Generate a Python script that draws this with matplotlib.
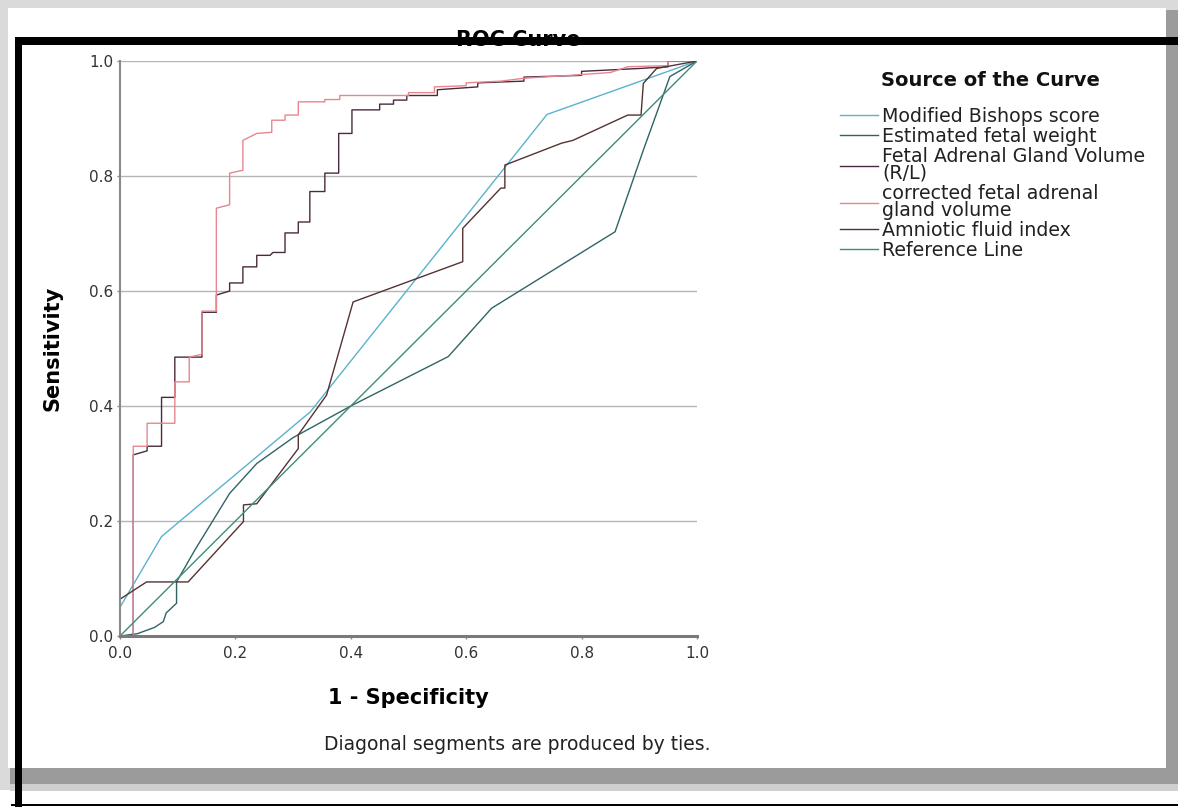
import matplotlib
matplotlib.use("Agg")
import matplotlib.pyplot as plt
from matplotlib.patches import Rectangle
from matplotlib.ticker import FormatStrFormatter

# ---------------- data ----------------
series_names = [
    "Modified Bishops score",
    "Estimated fetal weight",
    "Fetal Adrenal Gland Volume\n(R/L)",
    "corrected fetal adrenal\ngland volume",
    "Amniotic fluid index",
    "Reference Line",
]

bishops_x = [0.0, 0.0, 0.072, 0.33, 0.74, 1.0]
bishops_y = [0.0, 0.05, 0.173, 0.39, 0.907, 1.0]

efw_x = [0.0, 0.03, 0.06, 0.075, 0.08, 0.098, 0.098, 0.13, 0.19, 0.237, 0.30, 0.40, 0.569,
         0.644, 0.858, 0.907, 0.953, 1.0]
efw_y = [0.0, 0.004, 0.015, 0.025, 0.04, 0.057, 0.094, 0.15, 0.248, 0.30, 0.345, 0.40, 0.486,
         0.57, 0.703, 0.845, 0.973, 1.0]

fagv_x = [0.0, 0.023, 0.023, 0.047, 0.047, 0.072, 0.072, 0.095, 0.095, 0.142, 0.142, 0.167,
          0.167, 0.19, 0.19, 0.213, 0.213, 0.237, 0.237, 0.26, 0.265, 0.286, 0.286, 0.309,
          0.309, 0.329, 0.329, 0.355, 0.355, 0.379, 0.379, 0.402, 0.402, 0.45, 0.45, 0.474,
          0.474, 0.497, 0.497, 0.55, 0.55, 0.62, 0.62, 0.70, 0.70, 0.80, 0.80, 0.90, 0.95,
          0.95, 1.0]
fagv_y = [0.0, 0.0, 0.315, 0.322, 0.33, 0.33, 0.415, 0.415, 0.485, 0.485, 0.563, 0.563,
          0.593, 0.60, 0.614, 0.614, 0.642, 0.642, 0.662, 0.662, 0.667, 0.667, 0.701, 0.701,
          0.72, 0.72, 0.773, 0.773, 0.805, 0.805, 0.874, 0.874, 0.915, 0.915, 0.925, 0.925,
          0.932, 0.932, 0.94, 0.94, 0.95, 0.955, 0.962, 0.965, 0.972, 0.975, 0.982, 0.987, 0.99,
          1.0, 1.0]

cfagv_x = [0.0, 0.023, 0.023, 0.047, 0.047, 0.095, 0.095, 0.12, 0.12, 0.142, 0.142, 0.167,
           0.167, 0.19, 0.19, 0.213, 0.213, 0.237, 0.263, 0.263, 0.286, 0.286, 0.309, 0.309,
           0.355, 0.355, 0.381, 0.381, 0.50, 0.50, 0.545, 0.545, 0.60, 0.60, 0.66, 0.70, 0.78,
           0.85, 0.88, 0.95, 0.95, 1.0]
cfagv_y = [0.0, 0.0, 0.33, 0.33, 0.37, 0.37, 0.442, 0.442, 0.485, 0.49, 0.565, 0.565,
           0.744, 0.75, 0.805, 0.81, 0.862, 0.874, 0.876, 0.897, 0.897, 0.906, 0.906, 0.929,
           0.929, 0.933, 0.933, 0.94, 0.94, 0.945, 0.945, 0.955, 0.957, 0.962, 0.965, 0.97,
           0.975, 0.98, 0.99, 0.992, 1.0, 1.0]

afi_x = [0.0, 0.0, 0.046, 0.118, 0.214, 0.214, 0.237, 0.309, 0.309, 0.358, 0.404, 0.594,
         0.594, 0.66, 0.667, 0.667, 0.765, 0.785, 0.88, 0.903, 0.907, 0.93, 1.0]
afi_y = [0.0, 0.064, 0.094, 0.094, 0.199, 0.228, 0.23, 0.326, 0.35, 0.419, 0.581, 0.651,
         0.709, 0.779, 0.779, 0.819, 0.857, 0.862, 0.906, 0.906, 0.961, 0.987, 1.0]

ref_x = [0.0, 1.0]
ref_y = [0.0, 1.0]

series_x = [bishops_x, efw_x, fagv_x, cfagv_x, afi_x, ref_x]
series_y = [bishops_y, efw_y, fagv_y, cfagv_y, afi_y, ref_y]
series_colors = ["#5ab2cc", "#2f6466", "#4a2a3e", "#e8868e", "#553232", "#3f8c78"]

tick_values = [0.0, 0.2, 0.4, 0.6, 0.8, 1.0]

# ---------------- figure ----------------
W, H = 1178, 807
fig = plt.figure(figsize=(W / 100, H / 100), dpi=100, facecolor="white")


def box(x0, y0, x1, y1, color, z):
    r = Rectangle((x0 / W, 1 - y1 / H), (x1 - x0) / W, (y1 - y0) / H,
                  transform=fig.transFigure, facecolor=color, edgecolor="none", zorder=z)
    fig.add_artist(r)


# screenshot frame with drop shadow
box(0, 0, 1178, 790, "#dadada", -8)
box(10, 10, 1178, 784, "#9b9b9b", -7)
box(10, 784, 1178, 791, "#cfcfcf", -7)
box(8, 8, 1166, 768, "white", -6)

ax = fig.add_axes([120 / W, 1 - 636 / H, 577 / W, 575 / H])
ax.set_zorder(1)

for xs, ys, c, name in zip(series_x, series_y, series_colors, series_names):
    ax.plot(xs, ys, color=c, lw=1.0, label=name)

ax.set_xlim(0, 1)
ax.set_ylim(0, 1)
ax.set_xticks(tick_values)
ax.set_yticks(tick_values)
ax.xaxis.set_major_formatter(FormatStrFormatter("%.1f"))
ax.yaxis.set_major_formatter(FormatStrFormatter("%.1f"))
ax.tick_params(axis="both", length=2, width=1, color="#888888", labelsize=11,
               labelcolor="#333333")
ax.tick_params(axis="x", pad=5)
ax.tick_params(axis="y", pad=3)
ax.grid(axis="y", color="#b5b5b5", lw=1.0)
ax.set_axisbelow(True)
for s in ["top", "right"]:
    ax.spines[s].set_visible(False)
ax.spines["left"].set_color("#8a8a8a")
ax.spines["left"].set_linewidth(1.5)
ax.spines["bottom"].set_color("#7a7a7a")
ax.spines["bottom"].set_linewidth(2.2)

ax.set_xlabel("1 - Specificity", fontsize=15, fontweight="bold", va="center")
ax.xaxis.set_label_coords(0.5, -(698 - 636) / 575)
ax.set_ylabel("Sensitivity", fontsize=15, fontweight="bold", va="center")
ax.yaxis.set_label_coords((52 - 120) / 577, 0.5)

leg = ax.legend(loc="upper left", bbox_to_anchor=(840 / W, 1 - 107 / H),
                bbox_transform=fig.transFigure, frameon=False,
                fontsize=13.7, handlelength=2.0, handletextpad=0.22,
                labelspacing=0.055, borderpad=0, borderaxespad=0)
for t in leg.get_texts():
    t.set_linespacing(0.85)
    t.set_color("#222222")

fig.text(990 / W, 1 - 81 / H, "Source of the Curve", ha="center", va="center",
         fontsize=14, fontweight="bold", color="#111111", zorder=5)
fig.text(518 / W, 1 - 40 / H, "ROC Curve", ha="center", va="center", fontsize=15,
         fontweight="bold", zorder=5)
fig.text(517 / W, 1 - 745 / H, "Diagonal segments are produced by ties.", ha="center",
         va="center", fontsize=13.5, color="#222222", zorder=5)

# thick black border lines
box(15, 37, 22, 807, "black", 10)
box(15, 37, 1178, 45, "black", 10)
box(11, 804, 1178, 806, "black", 10)

fig.savefig("out.png", dpi=100, facecolor="white")
